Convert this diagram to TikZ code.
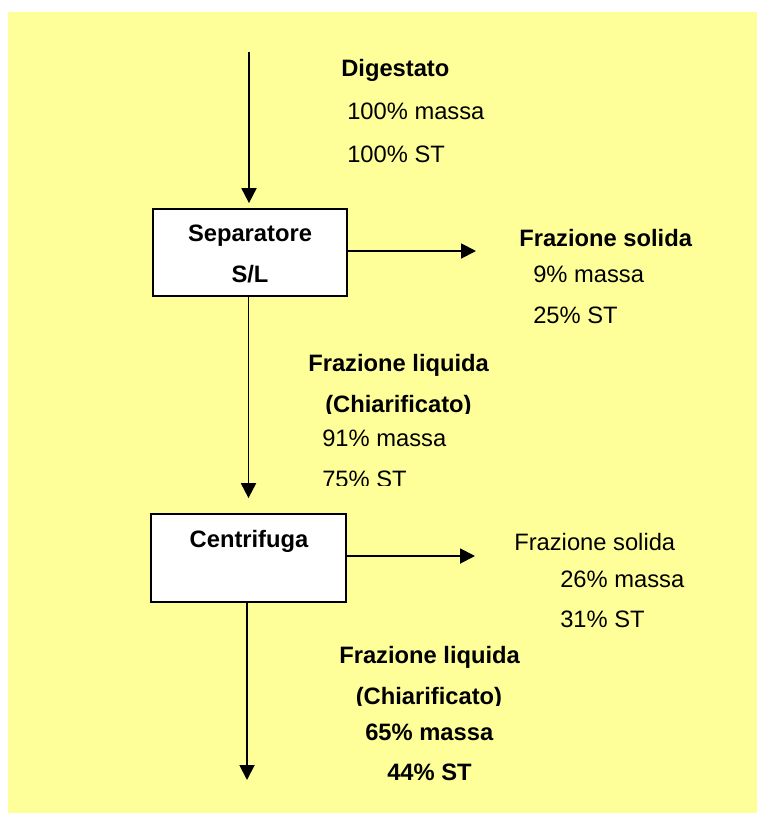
\documentclass[tikz,border=0pt]{standalone}
\usepackage{fontspec}
\setmainfont{Liberation Sans}
\usetikzlibrary{arrows.meta}
\definecolor{paper}{HTML}{FFFF99}
\begin{document}
\begin{tikzpicture}[x=0.75pt,y=-0.75pt,
  txt/.style={anchor=base west, inner sep=0pt, font=\fontsize{17.8}{20}\selectfont},
  bold/.style={txt, font=\fontsize{17.8}{20}\selectfont\bfseries},
  unit/.style={draw=black, line width=1.3pt, fill=white, inner sep=0pt},
  flow/.style={draw=black, line width=1.4pt, -{Triangle[length=11.25pt,width=11.25pt]}}]

% page and sheet
\useasboundingbox (0,0) rectangle (757,813);
\fill[white] (0,0) rectangle (757,813);
\fill[paper] (8,12) rectangle (757,813);

% process units
\node[unit, minimum width=145.5pt, minimum height=65.25pt] (sep) at (250,252.5) {};
\node[bold, anchor=base] (sepA) at (250,241) {Separatore};
\node[bold, anchor=base] (sepB) at (250,282) {S/L};

\node[unit, minimum width=146.25pt, minimum height=66pt] (cen) at (248.5,558) {};
\node[bold, anchor=base] (cenA) at (249,547) {Centrifuga};

% flows
\coordinate (src) at (249,52);
\coordinate (solid1) at (476,251);
\coordinate (solid2) at (475,556);
\coordinate (out) at (247,780);

\draw[flow, shorten >=3.75pt] (src) -- (src |- sep.north);
\draw[flow] (sep.east |- solid1) -- (solid1);
\draw[flow] (sep.south -| cen.north) -- ([yshift=11.25pt]cen.north);
\draw[flow] (cen.east |- solid2) -- (solid2);
\draw[flow] (cen.south -| out) -- (out);

% feed
\node[bold] (dig) at (341,77) {Digestato};
\node[txt] (digM) at (347,120) {100\% massa};
\node[txt] (digS) at (347,162) {100\% ST};

% separator, solid fraction
\node[bold] (sol1) at (519,246) {Frazione solida};
\node[txt] (sol1M) at (533,282) {9\% massa};
\node[txt] (sol1S) at (533,323) {25\% ST};

% separator, liquid fraction (text frames crop overflowing lines)
\begin{scope}
  \clip (290,340) rectangle (620,413);
  \node[bold] (liq1) at (308,371) {Frazione liquida};
  \node[bold] (liq1C) at (325,412) {(Chiarificato)};
\end{scope}
\begin{scope}
  \clip (290,420) rectangle (620,485);
  \node[txt] (liq1M) at (322,446) {91\% massa};
  \node[txt] (liq1S) at (322,487) {75\% ST};
\end{scope}

% centrifuge, solid fraction
\node[txt] (sol2) at (514,550) {Frazione solida};
\node[txt] (sol2M) at (560,587) {26\% massa};
\node[txt] (sol2S) at (560,627) {31\% ST};

% centrifuge, liquid fraction
\begin{scope}
  \clip (320,635) rectangle (620,705);
  \node[bold] (liq2) at (339,663) {Frazione liquida};
  \node[bold] (liq2C) at (355.5,704) {(Chiarificato)};
\end{scope}
\node[bold] (liq2M) at (365,740) {65\% massa};
\node[bold] (liq2S) at (387,780) {44\% ST};
\end{tikzpicture}
\end{document}
